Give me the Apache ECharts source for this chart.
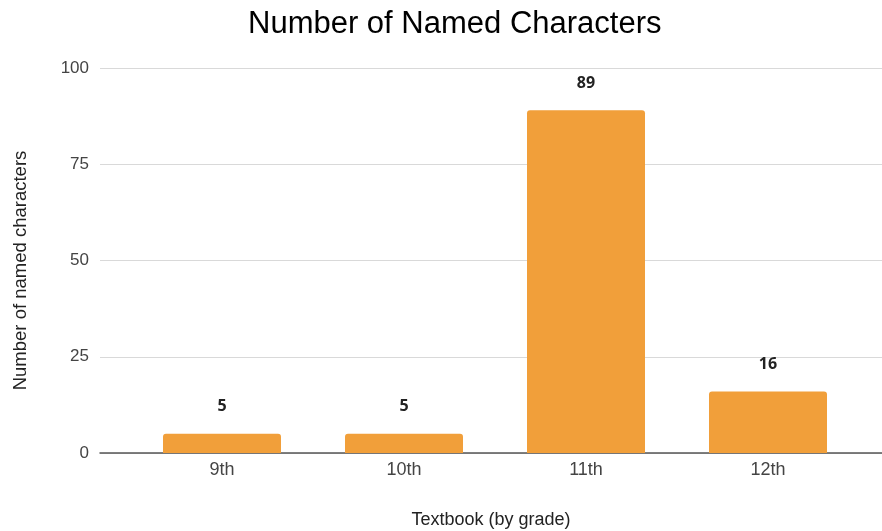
<!DOCTYPE html>
<html>
<head>
<meta charset="utf-8">
<script src="https://cdn.jsdelivr.net/npm/echarts@6/dist/echarts.min.js"></script>
<style>
  html, body { margin: 0; padding: 0; background: #fff; }
  #chart { width: 882px; height: 531px; }
</style>
</head>
<body>
<div id="chart"></div>
<script>
// 数据
let grades = ['9th', '10th', '11th', '12th']
let namedCounts = [5, 5, 89, 16]
let yTicks = [0, 25, 50, 75, 100]

let font = 'Liberation Sans, Arial, sans-serif'
let myChart = echarts.init(document.getElementById('chart'))

// grid 0 只画刻度和网格线, grid 1 画柱子
let option = {
  animation: false,
  title: {
    text: 'Number of Named Characters',
    left: 243,
    top: 4,
    textStyle: {fontFamily: font, fontSize: 31, fontWeight: 'normal', color: '#000'}
  },
  grid: [
    {left: 100, right: 0, top: 68, bottom: 78, outerBoundsMode: 'none'},
    {left: 131, right: 23, top: 68, bottom: 78, outerBoundsMode: 'none'}
  ],
  xAxis: [
    {
      gridIndex: 0,
      type: 'category',
      data: [''],
      axisLine: {show: true, lineStyle: {color: '#555', width: 1.5}},
      axisTick: {show: false},
      axisLabel: {show: false},
      name: 'Textbook (by grade)',
      nameLocation: 'middle',
      nameGap: 58,
      nameTextStyle: {fontFamily: font, fontSize: 18, color: '#222'}
    },
    {
      gridIndex: 1,
      type: 'category',
      data: grades,
      axisLine: {show: false},
      axisTick: {show: false},
      axisLabel: {fontFamily: font, fontSize: 18, color: '#444', margin: 8}
    }
  ],
  yAxis: [
    {
      gridIndex: 0,
      type: 'value',
      min: yTicks[0],
      max: yTicks[yTicks.length - 1],
      interval: 25,
      axisLine: {show: false},
      axisTick: {show: false},
      axisLabel: {fontFamily: font, fontSize: 17, color: '#444', margin: 11},
      splitLine: {lineStyle: {color: '#d9d9d9', width: 1}},
      name: 'Number of named characters',
      nameLocation: 'middle',
      nameGap: 70,
      nameRotate: 90,
      nameTextStyle: {fontFamily: font, fontSize: 18.5, color: '#222', padding: [0, 20, 0, 0]}
    },
    {
      gridIndex: 1,
      type: 'value',
      min: 0,
      max: 100,
      show: false
    }
  ],
  series: [
    {
      type: 'bar',
      xAxisIndex: 1,
      yAxisIndex: 1,
      data: namedCounts,
      barWidth: 118,
      z: 1,
      itemStyle: {color: '#F19F3A', borderRadius: [3, 3, 0, 0]},
      label: {
        show: true,
        position: 'top',
        distance: 19,
        fontFamily: 'Open Sans, sans-serif',
        fontSize: 16,
        fontWeight: 'bold',
        color: '#222'
      }
    }
  ]
}

myChart.setOption(option)
</script>
</body>
</html>
